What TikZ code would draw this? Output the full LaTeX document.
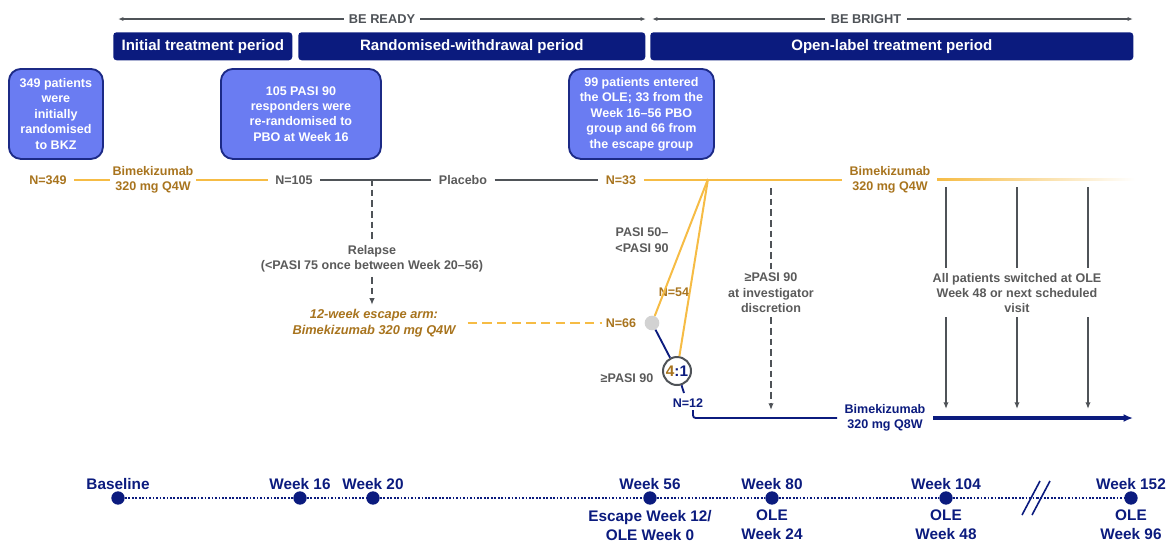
\documentclass[tikz,border=0pt]{standalone}
\usepackage{fontspec}
\setmainfont{Liberation Sans}
\usetikzlibrary{arrows.meta}
\definecolor{navy}{HTML}{0B1B7E}
\definecolor{boxfill}{HTML}{6A7CF2}
\definecolor{boxline}{HTML}{1C2A86}
\definecolor{orline}{HTML}{F6BC45}
\definecolor{ortext}{HTML}{A8741E}
\definecolor{grline}{HTML}{4F5358}
\definecolor{grtext}{HTML}{5A5A5A}
\tikzset{
  hdr/.style={fill=navy, rounded corners=2.5pt, text=white, font=\bfseries\fontsize{11.3}{13}\selectfont, inner sep=0pt, minimum height=21pt, anchor=north west},
  infobox/.style={fill=boxfill, draw=boxline, line width=1.4pt, rounded corners=9pt, text=white, font=\bfseries\fontsize{9.4}{11.6}\selectfont, align=center, inner sep=0pt, anchor=north west},
  ortxt/.style={text=ortext, font=\bfseries\fontsize{9.4}{11.6}\selectfont, align=center, inner sep=3pt},
  grtxt/.style={text=grtext, font=\bfseries\fontsize{9.4}{11.6}\selectfont, align=center, inner sep=3pt},
  nvtxt/.style={text=navy, font=\bfseries\fontsize{9.4}{11.6}\selectfont, align=center, inner sep=3pt},
  mainlab/.style={inner xsep=5.5pt},
  orln/.style={draw=orline, line width=1.5pt},
  grln/.style={draw=grline, line width=1.6pt},
  nvln/.style={draw=navy, line width=1.4pt},
  span/.style={draw=grline, line width=1.2pt, {Latex[length=4pt,width=3pt]}-{Latex[length=4pt,width=3pt]}},
  spantxt/.style={text=grline, font=\bfseries\fontsize{9.6}{11}\selectfont, fill=white, inner sep=4pt},
  vdash/.style={draw=grline, line width=1.2pt, dashed, dash pattern=on 5pt off 3pt},
  varr/.style={draw=grline, line width=1.3pt},
  tip/.style={-{Latex[length=5pt,width=4pt]}},
  tdot/.style={circle, fill=navy, inner sep=0pt, minimum size=10pt},
  tlab/.style={text=navy, font=\bfseries\fontsize{11.5}{14}\selectfont, align=center, inner sep=0pt},
}
\begin{document}
\begin{tikzpicture}[x=0.75pt,y=-0.75pt]
\useasboundingbox (0,0) rectangle (1172,551);
% spans
\coordinate (r1) at (118,19); \coordinate (r2) at (646,19);
\coordinate (b1) at (652,19); \coordinate (b2) at (1133,19);
\draw[span] (r1) -- (r2);
\draw[span] (b1) -- (b2);
\node[spantxt] (ready) at (382,19) {BE READY};
\node[spantxt] (bright) at (866,19) {BE BRIGHT};
% header bars
\node[hdr, minimum width=134.25pt] (h1) at (113,32) {Initial treatment period};
\node[hdr, minimum width=260.25pt] (h2) at (298,32) {Randomised-withdrawal period};
\node[hdr, minimum width=362.25pt] (h3) at (650,32) {Open-label treatment period};
% info boxes
\node[infobox, minimum width=70.5pt, minimum height=67.5pt] (bx1) at (8,68) {349 patients\\were\\initially\\randomised\\to BKZ};
\node[infobox, minimum width=120pt, minimum height=67.5pt] (bx2) at (220,68) {105 PASI 90\\responders were\\re-randomised to\\PBO at Week 16};
\node[infobox, minimum width=108.75pt, minimum height=67.5pt] (bx3) at (568,68) {99 patients entered\\the OLE; 33 from the\\Week 16--56 PBO\\group and 66 from\\the escape group};
% main line
\node[ortxt, mainlab] (n349) at (48,180) {N=349};
\node[ortxt, inner xsep=2pt] (bkz1) at (153,180) {Bimekizumab\\320 mg Q4W};
\node[grtxt, mainlab] (n105) at (294,180) {N=105};
\node[grtxt, mainlab] (plc) at (463,180) {Placebo};
\node[ortxt, mainlab] (n33) at (621,180) {N=33};
\node[ortxt, mainlab] (bkz2) at (890,180) {Bimekizumab\\320 mg Q4W};
\coordinate (br) at (708,179);
\coordinate (rl) at (372,179);
\draw[orln] (n349) -- (bkz1);
\draw[orln] (bkz1) -- (n105);
\draw[grln] (n105) -- (plc);
\draw[grln] (plc) -- (n33);
\draw[orln] (n33) -- (bkz2);
\shade[left color=orline, right color=white] (937,178.5) rectangle (1135,180.8);
% relapse / escape
\node[grtxt] (rel) at (372,259) {Relapse\\(<PASI 75 once between Week 20--56)};
\node[ortxt, font=\bfseries\itshape\fontsize{9.6}{11.8}\selectfont] (esc) at (374,323) {12-week escape arm:\\Bimekizumab 320 mg Q4W};
\draw[vdash] (rl) -- (rel);
\draw[vdash, tip] (rel) -- (esc.north -| rel);
\node[ortxt] (n66) at (621,323) {N=66};
\draw[orln, dash pattern=on 7pt off 4pt] (esc.east |- n66) ++(8,0) -- (n66.west);
\node[circle, fill=gray!35, inner sep=0pt, minimum size=11pt] (gc) at (652,323) {};
\node[circle, draw=grline, line width=1.5pt, fill=white, inner sep=0pt, minimum size=21pt, font=\bfseries\fontsize{11.5}{12}\selectfont] (rc) at (677,371) {\textcolor{ortext}{4}\textcolor{navy}{:1}};
\node[grtxt] (l5090) at (642,240) {PASI 50--\\<PASI 90};
\node[ortxt] (n54) at (674,292) {N=54};
\node[grtxt] (l90) at (627,378) {≥PASI 90};
\node[nvtxt] (n12) at (688,403) {N=12};
\draw[orln] (gc) -- (br);
\draw[orln] (rc) -- (br);
\draw[nvln] (gc) -- (rc);
\coordinate (rcb) at (684,393);
\draw[nvln] (rc) -- (rcb);
\coordinate (q8s) at (693,410);
\node[nvtxt, mainlab] (bkz3) at (885,418) {Bimekizumab\\320 mg Q8W};
\draw[nvln, rounded corners=2pt] (q8s) |- (bkz3.west);
\coordinate (q8e) at (1133,418);
\draw[navy, line width=2.4pt, -{Latex[length=7pt,width=6pt]}] (bkz3.east) -- (q8e);
% investigator dashed
\node[grtxt] (inv) at (771,293) {≥PASI 90\\at investigator\\discretion};
\coordinate (iv1) at (771,188); \coordinate (iv2) at (771,410);
\draw[vdash] (iv1) -- (inv);
\draw[vdash, tip] (inv) -- (iv2);
% switch arrows
\node[grtxt] (sw) at (1017,293) {All patients switched at OLE\\Week 48 or next scheduled\\visit};
\foreach \x/\n in {946/a,1017/b,1088/c}{
  \coordinate (s\n1) at (\x,187); \coordinate (s\n2) at (\x,268);
  \coordinate (s\n3) at (\x,317); \coordinate (s\n4) at (\x,409);
  \draw[varr] (s\n1) -- (s\n2);
  \draw[varr, tip] (s\n3) -- (s\n4);
}
% timeline
\node[tdot] (t0) at (118,498) {};
\node[tdot] (t16) at (300,498) {};
\node[tdot] (t20) at (373,498) {};
\node[tdot] (t56) at (650,498) {};
\node[tdot] (t80) at (772,498) {};
\node[tdot] (t104) at (946,498) {};
\node[tdot] (t152) at (1131,498) {};
\coordinate (brk) at (1037,498);
\foreach \a/\b in {t0/t16,t16/t20,t20/t56,t56/t80,t80/t104,t104/brk,brk/t152}
  \draw[navy, line width=1.3pt, dash pattern=on 1.3pt off 1.3pt] (\a) -- (\b);
\draw[navy, line width=1.2pt] (1022,515) -- (1040,481);
\draw[navy, line width=1.2pt] (1032,515) -- (1050,481);
\foreach \n/\t in {t0/Baseline,t16/Week 16,t20/Week 20,t56/Week 56,t80/Week 80,t104/Week 104,t152/Week 152}
  \node[tlab, above=6pt] at (\n) {\t};
\node[tlab, below=9pt] (lb56) at (t56) {Escape Week 12/\\OLE Week 0};
\node[tlab, below=9pt] (lb80) at (t80) {OLE\\Week 24};
\node[tlab, below=9pt] (lb104) at (t104) {OLE\\Week 48};
\node[tlab, below=9pt] (lb152) at (t152) {OLE\\Week 96};
\end{tikzpicture}
\end{document}
